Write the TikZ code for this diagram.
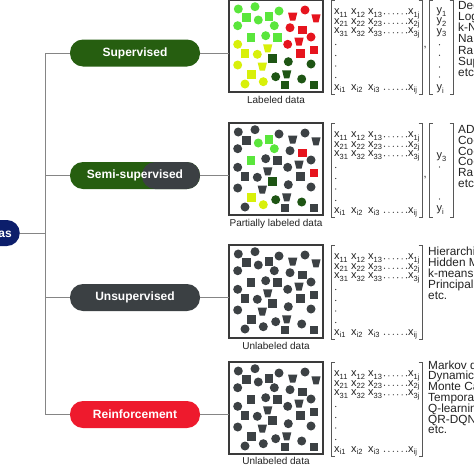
\documentclass[tikz,border=0pt]{standalone}
\usepackage{fontspec}
\setmainfont{Liberation Sans}
\usetikzlibrary{positioning}

\definecolor{MLgreen}{HTML}{265E10}
\definecolor{MLgray}{HTML}{3B4043}
\definecolor{MLred}{HTML}{EE1A2D}
\definecolor{MLnavy}{HTML}{0C1E6B}
\definecolor{ptL}{HTML}{5AE63C}
\definecolor{ptY}{HTML}{D8F00A}
\definecolor{ptD}{HTML}{1E5514}
\definecolor{ptR}{HTML}{E6141E}
\definecolor{ptG}{HTML}{3C4144}
\definecolor{LINEgray}{HTML}{858585}
\definecolor{FRAMEgray}{HTML}{3A3A3A}
\definecolor{TXTdark}{HTML}{222222}

\newcommand{\xs}[1]{x\raisebox{-0.45ex}{\fontsize{7.5}{8}\selectfont #1}}
\newcommand{\ys}[1]{y\raisebox{-0.45ex}{\fontsize{7.5}{8}\selectfont #1}}

\begin{document}
\begin{tikzpicture}[x=1pt, y=-1pt,
   pill/.style={rectangle, rounded corners=13pt, minimum width=130pt, minimum height=27pt,
      inner sep=0pt, text=white, font=\fontsize{12}{14}\selectfont\bfseries},
   link/.style={LINEgray, line width=1pt},
   dataframe/.style={draw=FRAMEgray, line width=1.3pt, minimum width=94pt, minimum height=92pt,
      inner sep=0pt, outer sep=0pt},
   datalabel/.style={font=\fontsize{10}{12}\selectfont, text=TXTdark, inner sep=0pt},
   mtext/.style={font=\fontsize{11}{12}\selectfont, text=TXTdark, inner sep=0pt, anchor=base west},
   algtext/.style={font=\fontsize{11.8}{12}\selectfont, text=TXTdark, inner sep=0pt, anchor=base west},
   bracket/.style={FRAMEgray!85, line width=1pt}]
   \useasboundingbox (0,0) rectangle (474,474);
   \clip (0,0) rectangle (474,474);

   % Root and learning types
   \node[pill, fill=MLnavy, minimum width=68pt, minimum height=26pt, anchor=east] (root) at (20,233) {ML areas};
   \node[pill, fill=MLgreen] (sup) at (135,53) {Supervised};
   \node[pill, fill=MLgreen, path picture={\fill[MLgray] ([xshift=72pt]path picture bounding box.south west)
      rectangle (path picture bounding box.north east);}] (semi) at (135,175.5) {Semi-supervised};
   \node[pill, fill=MLgray] (unsup) at (135,297.5) {Unsupervised};
   \node[pill, fill=MLred] (reinf) at (135,414.5) {Reinforcement};

   % Tree lines
   \coordinate (trunk) at (45,233);
   \draw[link] (root.east) -- (trunk);
   \draw[link] (sup.west -| trunk) -- (reinf.west -| trunk);
   \foreach \p in {sup,semi,unsup,reinf}
      \draw[link] (\p.west -| trunk) -- (\p.west);

   % Data boxes
   \node[dataframe] (box1) at (276,46) {};
   \node[dataframe] (box2) at (276,169) {};
   \node[dataframe, minimum height=93pt] (box3) at (276,291.5) {};
   \node[dataframe] (box4) at (276,408) {};
   \draw[link] (sup.east) -- (sup.east -| box1.west);
   \draw[link] (semi.east) -- (semi.east -| box2.west);
   \draw[link] (unsup.east) -- (unsup.east -| box3.west);
   \draw[link] (reinf.east) -- (reinf.east -| box4.west);
   \node[datalabel, below=4pt of box1] (lab1) {Labeled data};
   \node[datalabel, below=4pt of box2] (lab2) {Partially labeled data};
   \node[datalabel, below=4pt of box3] (lab3) {Unlabeled data};
   \node[datalabel, below=3pt of box4] (lab4) {Unlabeled data};

   % Points and feature matrices
   \foreach \bx/\sel in {box1/1,box2/2,box3/3,box4/3}{
      \begin{scope}[shift={(\bx.north west)}]
         \foreach \sh/\x/\y/\ca/\cb in {
            c/9.3/9/L/G, c/26/6.7/L/G, s/17.7/17.3/L/G, c/8.7/25.7/L/G, c/29.3/20/L/L,
            s/40/16.7/L/L, c/50/11/L/G, c/45.3/25.7/L/L, t/63.7/16.7/R/G, c/76/10/R/G,
            c/61/27.7/R/G, s/73.3/30/R/R, s/22/37.7/L/L, c/36.7/35.7/L/G, s/48.3/37.7/L/G,
            c/58.7/44.3/R/G, t/70/41.7/R/G, c/8.7/44.3/Y/G, s/16/53.3/Y/G, c/28.3/54.3/Y/G,
            t/38.7/48.3/Y/G, s/43.3/58.3/D/D, c/59.3/61.7/D/G, s/71.7/53.3/R/G, c/8.7/65/Y/G,
            t/33.3/66.7/Y/G, s/22.7/74.3/Y/Y, c/16/84/Y/G, c/34.3/81.7/Y/Y, c/46.7/76.7/D/D,
            t/57.7/74.3/D/G, c/72.7/79/D/D, s/56/85/D/G, t/87/18.3/R/G, s/85/50/R/R,
            c/82/64/D/G, s/85/85/D/G, c/82/37/R/G}{
            \ifcase\sel\or\edef\shc{pt\ca}\or\edef\shc{pt\cb}\else\edef\shc{ptG}\fi
            \if c\sh \fill[\shc] (\x,\y) circle (4.5);\fi
            \if s\sh \fill[\shc] (\x-4.3,\y-4.3) rectangle (\x+4.3,\y+4.3);\fi
            \if t\sh \fill[\shc] (\x-4.6,\y-4) -- (\x+4.6,\y-4) -- (\x+2.6,\y+4) -- (\x-2.6,\y+4) -- cycle;\fi
         }
         \draw[bracket] (105.5,0) -- (102,0) -- (102,94) -- (105.5,94);
         \draw[bracket] (189.5,0) -- (193,0) -- (193,94) -- (189.5,94);
         \foreach \rw/\y in {1/11, 2/20.5, 3/30, i/86.5}{
            \node[mtext] at (105,\y+3.5) {\xs{\rw 1}};
            \node[mtext] at (122,\y+3.5) {\xs{\rw 2}};
            \node[mtext] at (139,\y+3.5) {\xs{\rw 3}};
            \node[mtext] at (179,\y+3.5) {\xs{\rw j}};
            \foreach \dd in {0,...,5}
               \fill[TXTdark] (155.5+\dd*4.4,\y+2.8) circle (0.6);
         }
         \foreach \y in {42.5,53.5,64,75.5}
            \fill[TXTdark] (106.7,\y+2) circle (0.6);
      \end{scope}
   }

   % Label vectors
   \begin{scope}[shift={(box1.north west)}]
      \node[mtext] at (194.5,47) {,};
      \draw[bracket] (203.5,0) -- (200,0) -- (200,94) -- (203.5,94);
      \draw[bracket] (220.5,0) -- (224,0) -- (224,94) -- (220.5,94);
      \foreach \rw/\y in {1/10, 2/20, 3/30.7, i/87.3}
         \node[mtext] at (207.5,\y+3.5) {\ys{\rw}};
      \foreach \y in {42.7,53.3,65,75}
         \fill[TXTdark] (210.5,\y+2) circle (0.6);
   \end{scope}
   \begin{scope}[shift={(box2.north west)}]
      \node[mtext] at (194.5,54) {,};
      \draw[bracket] (203.5,0) -- (200,0) -- (200,94) -- (203.5,94);
      \draw[bracket] (220.5,0) -- (224,0) -- (224,94) -- (220.5,94);
      \foreach \rw/\y in {3/32, i/85.3}
         \node[mtext] at (207.5,\y+3.5) {\ys{\rw}};
      \foreach \y in {42,74}
         \fill[TXTdark] (210.5,\y+2) circle (0.6);
   \end{scope}

   % Algorithms
   \foreach \s [count=\i from 0] in {Decision tree, Logistic regression, k-Nearest neighbors,
         Naive Bayes, Random forest, Support vector machine, etc}
      \node[algtext] at (458,9+11.3*\i) {\s};
   \foreach \s [count=\i from 0] in {ADMM, Co-training, Co-EM, Co-forest, Random walk, etc}
      \node[algtext] at (458,133.8+10.7*\i) {\s};
   \foreach \s [count=\i from 0] in {Hierarchical clustering, Hidden Markov model, k-means clustering,
         Principal component analysis, etc.}
      \node[algtext] at (428,255.8+10.8*\i) {\s};
   \foreach \s [count=\i from 0] in {Markov decision process, Dynamic programming, Monte Carlo,
         Temporal difference, Q-learning, QR-DQN, etc.}
      \node[algtext] at (428,369+10.8*\i) {\s};
\end{tikzpicture}
\end{document}
